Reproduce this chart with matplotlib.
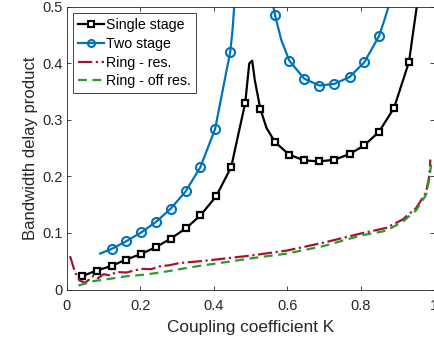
import numpy as np
import matplotlib
matplotlib.use('Agg')
import matplotlib.pyplot as plt
from matplotlib.lines import Line2D

plt.rcParams['font.family'] = ['Liberation Sans', 'DejaVu Sans']

nan = np.nan

# Single stage: curve and marker points
single_k = [0.041, 0.082, 0.123, 0.162, 0.203, 0.243, 0.283, 0.324, 0.364, 0.407, 0.448, 0.466,
            0.486, 0.497, 0.505, 0.512, 0.527, 0.544, 0.567, 0.606, 0.647, 0.688, 0.729, 0.770,
            0.810, 0.850, 0.891, 0.932, 0.942, 0.953]
single_v = [0.0235, 0.0336, 0.042, 0.053, 0.063, 0.075, 0.090, 0.108, 0.131, 0.165, 0.217, 0.271,
            0.330, 0.400, 0.405, 0.371, 0.320, 0.286, 0.261, 0.2385, 0.2285, 0.2267, 0.2297, 0.2397,
            0.255, 0.279, 0.321, 0.403, 0.45, 0.5]
single_mk = [0.041, 0.082, 0.123, 0.162, 0.203, 0.243, 0.283, 0.324, 0.364, 0.407, 0.448, 0.486,
             0.527, 0.567, 0.606, 0.647, 0.688, 0.729, 0.770, 0.810, 0.850, 0.891, 0.932]
single_mv = [0.0235, 0.0336, 0.042, 0.053, 0.063, 0.075, 0.090, 0.108, 0.131, 0.165, 0.217, 0.330,
             0.320, 0.261, 0.2385, 0.2285, 0.2267, 0.2297, 0.2397, 0.255, 0.279, 0.321, 0.403]

# Two stage: two branches separated by a gap
two_k = [0.091, 0.123, 0.162, 0.203, 0.243, 0.283, 0.324, 0.364, 0.404, 0.445, 0.451, 0.456,
         nan,
         0.563, 0.567, 0.584, 0.606, 0.647, 0.688, 0.729, 0.770, 0.810, 0.850, 0.865, 0.876]
two_v = [0.0636, 0.072, 0.0854, 0.101, 0.1196, 0.143, 0.1737, 0.2167, 0.284, 0.420, 0.455, 0.5,
         nan,
         0.5, 0.486, 0.442, 0.405, 0.373, 0.361, 0.364, 0.376, 0.402, 0.448, 0.477, 0.5]
two_mk = [0.123, 0.162, 0.203, 0.243, 0.283, 0.324, 0.364, 0.404, 0.445,
          0.567, 0.606, 0.647, 0.688, 0.729, 0.770, 0.810, 0.850]
two_mv = [0.072, 0.0854, 0.101, 0.1196, 0.143, 0.1737, 0.2167, 0.284, 0.420,
          0.486, 0.405, 0.373, 0.361, 0.364, 0.376, 0.402, 0.448]

# Ring - res.
ring_k = [0.009, 0.023, 0.035, 0.050, 0.062, 0.072, 0.085, 0.100, 0.118, 0.135, 0.163, 0.185,
          0.208, 0.230, 0.254, 0.280, 0.308, 0.362, 0.406, 0.5, 0.6, 0.7, 0.8, 0.87, 0.915,
          0.951, 0.978, 0.987, 0.990]
ring_v = [0.059, 0.030, 0.016, 0.012, 0.018, 0.024, 0.020, 0.027, 0.025, 0.031, 0.030, 0.034,
          0.0365, 0.036, 0.041, 0.043, 0.047, 0.050, 0.053, 0.060, 0.069, 0.083, 0.099, 0.109,
          0.124, 0.144, 0.171, 0.200, 0.230]

# Ring - off res.
off_k = [0.032, 0.072, 0.118, 0.163, 0.208, 0.254, 0.308, 0.363, 0.45, 0.5, 0.6, 0.7, 0.8,
         0.87, 0.915, 0.951, 0.978, 0.987, 0.993]
off_v = [0.007, 0.0147, 0.019, 0.0235, 0.026, 0.030, 0.036, 0.042, 0.050, 0.055, 0.0636, 0.077,
         0.0954, 0.104, 0.120, 0.140, 0.167, 0.195, 0.225]

blue = '#0072BD'
red = '#A2142F'
green = '#2E9A2E'
grey = '#262626'

fig = plt.figure(figsize=(4.34, 3.43), dpi=100)
ax = fig.add_axes([66.7 / 434, 1 - 289.5 / 343, 367.3 / 434, 282.5 / 343])

ax.plot(single_k, single_v, color='black', lw=1.6)
ax.plot(single_mk, single_mv, ls='none', marker='s', ms=5, mfc='white', mec='black', mew=1.6)
ax.plot(two_k, two_v, color=blue, lw=1.6)
ax.plot(two_mk, two_mv, ls='none', marker='o', ms=6.5, mfc='none', mec=blue, mew=1.5)
ax.plot(ring_k, ring_v, color=red, lw=1.6, ls='-.')
ax.plot(off_k, off_v, color=green, lw=1.6, ls=(0, (4, 2.5)))

ax.set_xlim(0, 1)
ax.set_ylim(0, 0.5)
ax.set_xticks([0, 0.2, 0.4, 0.6, 0.8, 1])
ax.set_xticklabels(['0', '0.2', '0.4', '0.6', '0.8', '1'])
ax.set_yticks([0, 0.1, 0.2, 0.3, 0.4, 0.5])
ax.set_yticklabels(['0', '0.1', '0.2', '0.3', '0.4', '0.5'])
ax.tick_params(direction='in', top=True, right=True, labelsize=10.5, colors=grey,
               length=3, width=0.6)
ax.tick_params(axis='x', pad=7)
ax.tick_params(axis='y', pad=3)
for s in ax.spines.values():
    s.set_color(grey)
    s.set_linewidth(0.6)
ax.set_xlabel('Coupling coefficient K', fontsize=12.4, color=grey, labelpad=5)
ax.set_ylabel('Bandwidth delay product', fontsize=12, color=grey, labelpad=3)

handles = [
    Line2D([], [], color='black', lw=1.6, marker='s', ms=4, mfc='white', mew=1.5),
    Line2D([], [], color=blue, lw=1.6, marker='o', ms=5, mfc='none', mew=1.5),
    Line2D([], [], color=red, lw=1.6, ls='-.'),
    Line2D([], [], color=green, lw=1.6, ls=(0, (4, 2.5))),
]
labels = ['Single stage', 'Two stage', 'Ring - res.', 'Ring - off res.']
leg = ax.legend(handles, labels, loc='upper left', fontsize=10.2, fancybox=False,
                edgecolor=grey, framealpha=1, handlelength=1.8, handletextpad=0.2,
                labelspacing=0.33, borderpad=0.35, borderaxespad=0.45)
leg.get_frame().set_linewidth(0.6)

fig.savefig('out.png', dpi=100)
